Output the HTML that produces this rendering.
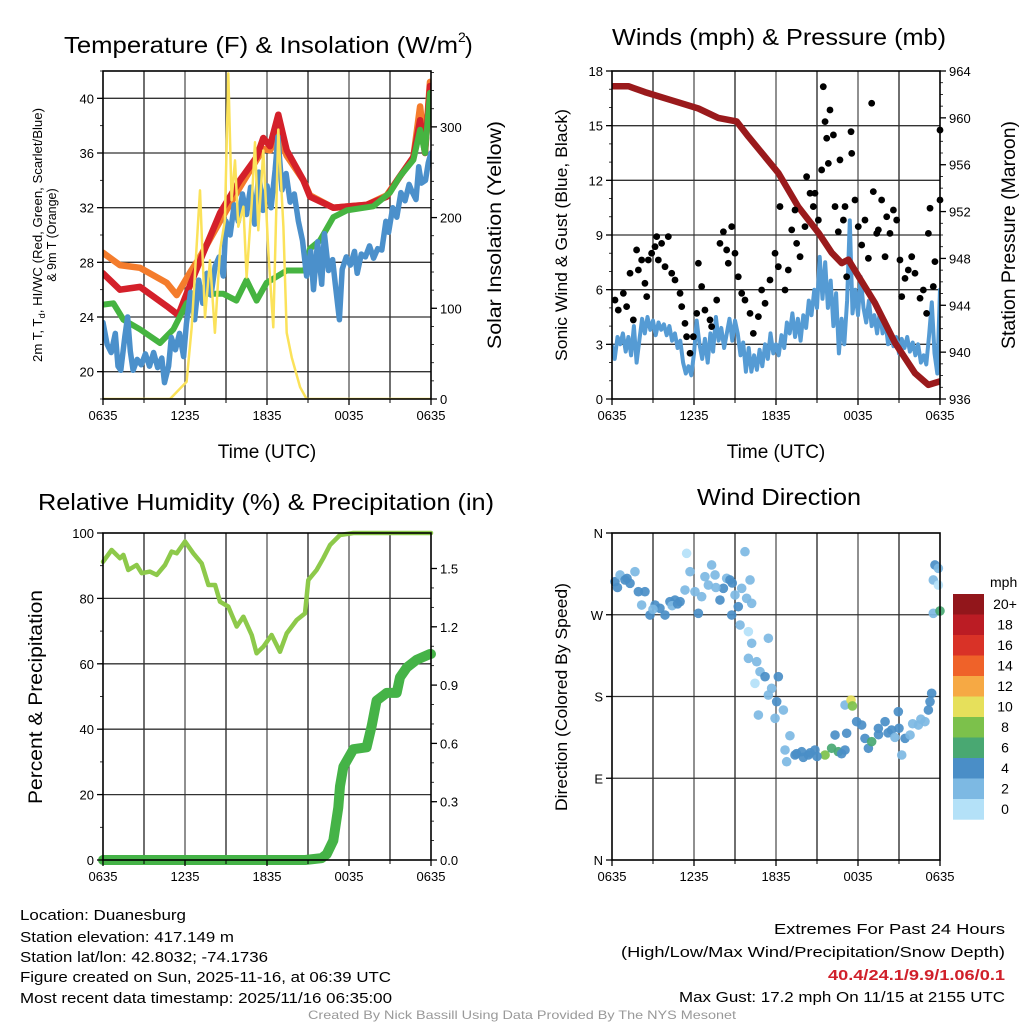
<!DOCTYPE html>
<html><head><meta charset="utf-8"><style>
html,body{margin:0;padding:0;background:#fff;}
svg{display:block;font-family:"Liberation Sans",Arial,sans-serif;}
</style></head><body>
<svg id="fig" width="1024" height="1024" viewBox="0 0 1024 1024" xmlns="http://www.w3.org/2000/svg">
<rect width="1024" height="1024" fill="#fff"/>
<g id="gridLayer"></g>
<g id="dataLayer"></g>
<g id="axisLayer"></g>
<text x="64" y="53" font-size="23" textLength="394" lengthAdjust="spacingAndGlyphs">Temperature (F) &amp; Insolation (W/m</text>
<text x="458" y="42" font-size="14">2</text>
<text x="465" y="53" font-size="23">)</text>
<text x="612" y="45" font-size="23" textLength="334" lengthAdjust="spacingAndGlyphs">Winds (mph) &amp; Pressure (mb)</text>
<text x="38" y="510" font-size="23" textLength="456" lengthAdjust="spacingAndGlyphs">Relative Humidity (%) &amp; Precipitation (in)</text>
<text x="697" y="505" font-size="23" textLength="164" lengthAdjust="spacingAndGlyphs">Wind Direction</text>
<text transform="translate(42,235) rotate(-90)" text-anchor="middle" font-size="12.5" textLength="254" lengthAdjust="spacingAndGlyphs">2m T, T<tspan font-size="9" dy="3">d</tspan><tspan dy="-3">, HI/WC (Red, Green, Scarlet/Blue)</tspan></text>
<text transform="translate(56,235) rotate(-90)" text-anchor="middle" font-size="12.5">&amp; 9m T (Orange)</text>
<text transform="translate(501,235) rotate(-90)" text-anchor="middle" font-size="19" textLength="228" lengthAdjust="spacingAndGlyphs">Solar Insolation (Yellow)</text>
<text x="267" y="458" text-anchor="middle" font-size="19">Time (UTC)</text>
<text transform="translate(567,235) rotate(-90)" text-anchor="middle" font-size="16.5" textLength="252" lengthAdjust="spacingAndGlyphs">Sonic Wind &amp; Gust (Blue, Black)</text>
<text transform="translate(1015,235) rotate(-90)" text-anchor="middle" font-size="19" textLength="228" lengthAdjust="spacingAndGlyphs">Station Pressure (Maroon)</text>
<text x="776" y="458" text-anchor="middle" font-size="19">Time (UTC)</text>
<text transform="translate(42,697) rotate(-90)" text-anchor="middle" font-size="19" textLength="214" lengthAdjust="spacingAndGlyphs">Percent &amp; Precipitation</text>
<text transform="translate(567,697) rotate(-90)" text-anchor="middle" font-size="16.5" textLength="228" lengthAdjust="spacingAndGlyphs">Direction (Colored By Speed)</text>
<g id="cbar"></g>
<text x="990" y="587" font-size="14">mph</text>
<g font-size="14.5">
<text x="20" y="920" textLength="166" lengthAdjust="spacingAndGlyphs">Location: Duanesburg</text>
<text x="20" y="942" textLength="214" lengthAdjust="spacingAndGlyphs">Station elevation: 417.149 m</text>
<text x="20" y="962" textLength="248" lengthAdjust="spacingAndGlyphs">Station lat/lon: 42.8032; -74.1736</text>
<text x="20" y="982" textLength="371" lengthAdjust="spacingAndGlyphs">Figure created on Sun, 2025-11-16, at 06:39 UTC</text>
<text x="20" y="1003" textLength="372" lengthAdjust="spacingAndGlyphs">Most recent data timestamp: 2025/11/16 06:35:00</text>
</g>
<g font-size="14.5" text-anchor="end">
<text x="1005" y="934" textLength="231" lengthAdjust="spacingAndGlyphs">Extremes For Past 24 Hours</text>
<text x="1005" y="957" textLength="384" lengthAdjust="spacingAndGlyphs">(High/Low/Max Wind/Precipitation/Snow Depth)</text>
<text x="1005" y="980" fill="#d0202a" font-weight="bold" textLength="177" lengthAdjust="spacingAndGlyphs">40.4/24.1/9.9/1.06/0.1</text>
<text x="1005" y="1002" textLength="326" lengthAdjust="spacingAndGlyphs">Max Gust: 17.2 mph On 11/15 at 2155 UTC</text>
</g>
<text x="522" y="1019" text-anchor="middle" font-size="12" fill="#999" textLength="428" lengthAdjust="spacingAndGlyphs">Created By Nick Bassill Using Data Provided By The NYS Mesonet</text>
</svg>
<script>
// ---------- DATA ----------
const timeTicks = ["0635","1235","1835","0035","0635"];
const tempHours = [0,1.24,2.71,4.66,5.51,6.12,7.34,8.56,10.02,11.24,11.73,12.22,12.83,13.44,14.66,15.15,16.85,18.07,19.29,20.76,21.73,22.71,23.2,23.56,23.93,24];
const tempValues = [27.2,26.0,26.2,24.8,24.15,25.7,28.7,31.6,34.0,35.7,37.1,36.5,38.8,36.2,34.0,32.8,32.0,32.1,32.2,32.8,34.3,35.7,38.4,36.0,40.9,40.4];
const t9Hours = [0,1.24,2.71,4.66,5.39,6.34,7.1,8.56,10.02,11.24,11.73,12.22,12.83,13.44,14.66,15.15,16.85,18.07,19.29,20.76,21.73,22.71,23.2,23.56,23.93,24];
const t9Values = [28.7,27.8,27.6,26.5,25.6,27.2,28.4,31.0,33.5,35.5,36.3,36.2,37.3,35.8,34.0,32.9,32.0,32.1,32.2,32.9,34.3,35.7,39.4,36.2,41.2,40.6];
const tdHours = [0,0.76,1.49,2.71,4.17,5.15,6.12,7.1,8.8,9.76,10.5,11.24,11.97,13.44,14.78,15.15,15.88,16.85,17.83,19.78,21.0,21.73,22.71,23.2,23.56,23.93,24];
const tdValues = [24.9,25.0,23.8,23.1,22.1,23.1,25.0,25.7,25.7,25.2,26.7,25.2,26.5,27.4,27.4,29.0,29.6,31.3,31.8,32.1,33.1,34.3,35.5,37.7,36.0,40.4,40.2];
const wcHours = [0,0.3,0.6,0.9,1.1,1.3,1.6,1.8,2.0,2.2,2.5,2.8,3.1,3.4,3.7,4.0,4.3,4.5,4.8,5.0,5.3,5.6,5.9,6.1,6.4,6.7,7.0,7.3,7.6,7.9,8.2,8.5,8.8,9.0,9.3,9.6,9.9,10.2,10.5,10.8,11.1,11.4,11.7,12.0,12.3,12.6,12.8,13.1,13.4,13.7,14.0,14.3,14.6,14.9,15.2,15.4,15.7,16.0,16.2,16.5,16.8,17.0,17.3,17.5,17.8,18.1,18.4,18.6,18.9,19.2,19.5,19.8,20.1,20.4,20.7,20.9,21.2,21.5,21.8,22.1,22.4,22.6,22.9,23.1,23.3,23.6,23.8,24];
const wcValues = [23.6,22.0,21.4,22.8,20.4,20.1,22.6,24.0,21.5,20.1,20.9,20.5,21.3,20.4,21.4,20.3,21.0,19.2,20.4,22.5,21.6,22.8,21.1,23.5,25.8,23.8,26.7,25.0,27.2,25.6,27.7,28.4,27.0,31.0,30.0,32.2,31.0,33.0,31.5,33.5,30.8,34.6,31.8,33.6,32.0,34.8,37.2,33.3,34.5,32.4,33.0,31.0,29.6,27.0,28.8,26.0,29.5,26.4,30.1,27.4,28.2,26.4,23.8,27.5,28.4,27.8,28.8,27.2,28.6,28.4,29.2,28.3,29.0,28.9,31.0,30.2,32.0,31.3,33.1,32.5,33.7,33.2,32.6,35.0,33.8,34.0,35.3,36.0];
const solarHours = [0,4.9,6.12,6.49,7.1,7.46,7.83,8.19,8.56,8.92,9.17,9.41,9.66,9.9,10.27,10.51,10.88,11.12,11.36,11.73,12.1,12.46,12.83,13.2,13.44,13.81,14.42,14.9,24];
const solarValues = [0,0,19,79,230,90,153,73,164,197,359,219,263,190,212,134,216,283,186,274,161,79,297,190,73,46,13,0,0];
const windHours = [0,0.2,0.4,0.6,0.8,1.0,1.2,1.4,1.6,1.8,2.0,2.2,2.4,2.6,2.8,3.0,3.2,3.4,3.6,3.8,4.0,4.2,4.4,4.6,4.8,5.0,5.2,5.4,5.6,5.8,6.0,6.2,6.4,6.6,6.8,7.0,7.2,7.4,7.6,7.8,8.0,8.2,8.4,8.6,8.8,9.0,9.2,9.4,9.6,9.8,10.0,10.2,10.4,10.6,10.8,11.0,11.2,11.4,11.6,11.8,12.0,12.2,12.4,12.6,12.8,13.0,13.2,13.4,13.6,13.8,14.0,14.2,14.4,14.6,14.8,15.0,15.2,15.4,15.6,15.8,16.0,16.2,16.4,16.6,16.8,17.0,17.2,17.4,17.6,17.8,18.0,18.2,18.4,18.6,18.8,19.0,19.2,19.4,19.6,19.8,20.0,20.2,20.4,20.6,20.8,21.0,21.2,21.4,21.6,21.8,22.0,22.2,22.4,22.6,22.8,23.0,23.2,23.4,23.6,23.8,24];
const windValues = [2.9,2.2,3.4,3.0,3.6,2.6,3.4,2.4,4.0,2.0,3.2,4.4,3.6,4.5,3.8,4.3,3.5,4.2,3.8,4.1,3.5,4.0,3.2,3.6,2.8,3.2,2.0,1.4,1.8,1.3,2.5,4.3,3.0,2.2,3.3,2.0,3.6,2.6,4.5,3.2,3.9,2.8,3.6,4.4,3.2,4.3,3.6,2.4,3.1,1.5,2.8,1.5,2.4,1.6,2.7,1.8,3.0,2.2,3.6,2.5,3.0,2.4,3.5,2.8,4.2,3.6,4.7,3.4,4.4,3.2,4.6,3.9,5.4,4.6,6.0,5.0,7.8,5.5,7.5,5.0,6.5,4.0,5.8,2.5,4.4,3.0,5.4,9.8,4.7,6.0,4.6,6.7,5.0,4.2,5.4,4.0,4.6,3.6,4.8,3.6,4.3,3.0,3.6,2.9,3.4,2.5,3.3,2.8,3.4,2.6,3.1,2.4,3.0,2.0,2.4,1.9,3.5,5.3,2.5,1.4,6.0];
const pressHours = [0.1,1.2,2.41,4.37,6.32,7.78,9.12,9.98,12.17,13.63,15.1,16.07,16.81,17.29,18.02,19.24,20.71,22.17,23.15,24];
const pressValues = [962.7,962.7,962.2,961.5,960.8,960.0,959.7,958.4,955.3,952.4,950.2,948.5,947.6,947.9,946.5,944.2,940.8,938.2,937.2,937.5];
const gustHours = [0.22,0.46,0.83,1.07,1.32,1.56,1.80,1.93,2.17,2.41,2.54,2.66,2.90,3.15,3.27,3.39,3.63,3.88,4.12,4.37,4.61,4.98,5.10,5.34,5.46,5.71,5.95,6.20,6.32,6.56,6.80,7.17,7.29,7.66,7.90,8.15,8.39,8.51,8.76,9.00,9.24,9.49,9.73,10.10,10.34,10.71,10.95,11.20,11.56,11.93,12.17,12.29,12.66,12.90,13.15,13.39,13.51,13.76,14.12,14.24,14.49,14.73,14.85,15.10,15.34,15.46,15.59,15.71,15.83,15.95,16.20,16.32,16.56,16.68,16.93,17.05,17.17,17.49,17.54,17.78,18.02,18.27,18.51,18.76,19.0,19.12,19.37,19.49,19.73,19.98,20.10,20.34,20.59,20.83,21.07,21.20,21.44,21.68,21.93,22.17,22.54,22.78,23.02,23.15,23.27,23.51,23.63,24.0,24.0];
const gustValues = [5.43,4.88,5.80,5.07,6.90,4.34,8.18,7.08,7.63,6.35,5.62,7.63,8.0,8.36,8.91,7.63,8.54,7.26,8.91,6.90,6.53,5.80,5.07,4.15,3.42,2.51,3.42,4.70,7.45,6.17,4.88,4.34,3.97,5.43,8.54,9.18,8.18,7.45,9.46,8.0,6.71,5.80,5.43,4.70,3.60,4.52,5.98,5.25,6.53,8.0,7.26,10.56,5.98,7.08,9.28,10.37,8.54,7.81,9.46,12.2,11.29,10.56,11.29,9.82,12.57,17.14,15.22,14.31,12.93,15.86,14.49,10.56,9.18,13.12,9.82,10.56,6.71,14.67,13.48,10.92,9.46,8.45,9.82,7.72,16.23,11.38,9.09,9.28,10.92,7.81,10.0,9.09,10.37,9.82,7.63,5.62,6.62,7.08,7.81,6.90,5.53,5.98,4.70,9.09,10.47,6.17,7.54,10.92,14.76];
const rhHours = [0,0.63,1.24,1.49,1.85,2.46,2.83,3.44,3.93,4.54,5.02,5.39,6.0,6.61,7.22,7.71,8.2,8.56,9.17,9.78,10.27,10.88,11.24,11.73,12.34,12.95,13.44,14.17,14.78,15.02,15.63,16.12,16.61,17.34,18.32,24];
const rhValues = [91.2,94.8,92.3,93.3,88.7,90.2,87.7,88.2,87.2,90.2,94.3,93.8,97.4,93.8,90.7,84.1,84.1,79.0,77.5,71.4,74.4,68.8,63.2,65.2,68.8,63.7,69.3,73.4,75.4,85.6,88.7,92.3,96.3,99.4,100,100];
const precipHours = [0,14.8,16.0,16.37,16.85,17.22,17.34,17.59,18.32,19.29,19.66,20.02,20.76,21.49,21.73,22.22,22.95,23.93,24];
const precipValues = [0,0,0.01,0.03,0.10,0.27,0.38,0.48,0.57,0.58,0.69,0.82,0.86,0.86,0.94,0.99,1.03,1.06,1.06];
const dirHours = [0.22,0.59,0.95,1.32,1.68,1.93,2.17,2.41,2.78,3.15,3.51,3.88,4.24,4.61,4.98,5.34,5.46,5.71,6.07,6.32,6.56,6.80,7.05,7.29,7.54,7.90,8.15,8.39,8.63,8.76,9.00,9.24,9.49,9.73,9.85,10.10,10.22,9.37,9.98,10.22,11.44,9.98,10.59,10.83,10.46,11.20,11.68,12.17,12.05,11.44,10.71,11.93,12.54,13.02,12.66,12.78,13.39,13.88,14.37,14.85,15.59,16.07,16.56,17.05,16.32,17.17,17.05,17.49,17.59,17.90,18.27,18.51,18.76,19.0,19.49,19.98,20.46,20.95,21.20,21.44,21.81,22.42,22.90,23.15,23.27,23.39,23.63,23.88,23.51,23.88,23.51,24.0,13.5,14.0,14.5,15.0,16.8,19.5,20.2,20.7,21.0,22.0,22.6,3.0,4.4,4.8,1.1,0.4,7.6,8.8];
const dirValues = [306.4,313.8,308.3,304.6,317.4,295.4,280.7,295.4,269.7,280.7,277.1,269.7,284.4,286.2,284.4,297.2,337.6,317.4,295.4,271.6,289.9,311.9,302.7,324.8,313.8,286.2,299.1,310.1,308.3,269.7,291.7,278.9,299.1,339.4,288.1,308.3,282.6,258.7,251.4,238.6,244.1,222.0,218.3,207.3,194.5,201.8,189.0,201.8,174.3,181.6,159.6,156.0,165.1,136.8,121.1,108.2,115.6,119.2,115.6,121.1,115.6,123.0,119.2,121.1,137.6,139.5,170.6,176.1,169.6,152.3,148.6,133.9,123.0,130.3,144.9,152.3,143.1,163.3,115.6,133.9,137.6,148.6,152.3,165.1,174.3,183.5,324.8,321.1,308.3,302.7,271.6,274.2,117,113,118,114,117,138,140,135,145,150,155,276,280,282,310,300,300,305];
const dirSpeeds = [4,3,4,4,3,4,3,4,4,4,4,4,4,4,4,3,0,2,3,4,3,2,3,2,3,4,4,3,4,4,3,4,3,3,3,2,3,3,1,2,3,2,2,3,0,4,3,4,4,3,2,3,3,2,3,2,4,4,4,4,8,7,6,4,4,4,2,10,8,4,4,4,4,6,4,4,4,4,3,4,3,3,3,4,4,4,4,3,2,1,3,6,4,4,4,4,4,4,4,3,4,3,3,3,3,4,4,4,3,4,4];
const cbarLabels = ["20+","18","16","14","12","10","8","6","4","2","0"];
const cbarColors = ["#92161b","#bb1c24","#d93227","#ef6229","#f6a944","#e6e05b","#7cc14b","#49a872","#4a8ec7","#7db9e3","#b4e1f8"];

// ---------- HELPERS ----------
const NS = "http://www.w3.org/2000/svg";
const gridL = document.getElementById("gridLayer");
const dataL = document.getElementById("dataLayer");
const axisL = document.getElementById("axisLayer");
function mk(tag, parent, attrs){const e=document.createElementNS(NS,tag);for(const k in attrs)e.setAttribute(k,attrs[k]);parent.appendChild(e);return e;}
function scale(d0,d1,p0,p1){return v=>p0+(v-d0)/(d1-d0)*(p1-p0);}
function speedColor(s){if(s>=20)return cbarColors[0];const i=Math.floor(s/2);return cbarColors[10-Math.min(10,i)];}

function panel(name,x0,y0,x1,y1){
  const xs=scale(0,24,x0,x1);
  for(let h=3;h<24;h+=3){
    const l=mk("line",gridL,{x1:xs(h),x2:xs(h),y1:y0,y2:y1,stroke:(h%6===0)?"#555":"#222","stroke-width":1.3});
    
    
  }
  const fr=mk("rect",axisL,{x:x0,y:y0,width:x1-x0,height:y1-y0,fill:"none",stroke:"#000","stroke-width":1.6});
  
  
  timeTicks.forEach((t,i)=>{
    const x=xs(i*6);
    const tk=mk("line",axisL,{x1:x,x2:x,y1:y1,y2:y1+6,stroke:"#000","stroke-width":1.3});
    
    
    const tx=mk("text",axisL,{x:x,y:y1+21,"text-anchor":"middle","font-size":13});
    tx.textContent=t;
    
    
  });
  for(let h=3;h<24;h+=6){
    const tk=mk("line",axisL,{x1:xs(h),x2:xs(h),y1:y1,y2:y1+4,stroke:"#000","stroke-width":1});
    
    
  }
  return xs;
}
function yAxis(name,ys,x0,x1,ticks,labels,side,grid,minorStep,dmin,dmax){
  ticks.forEach((v,i)=>{
    const y=ys(v);
    if(grid && y>ys(dmax)+1 && y<ys(dmin)-1){
      const g=mk("line",gridL,{x1:x0,x2:x1,y1:y,y2:y,stroke:"#333","stroke-width":1.3});
      
      
    }
    const xx= side==="left"?x0:x1;
    const tk=mk("line",axisL,{x1:xx,x2:side==="left"?xx-6:xx+6,y1:y,y2:y,stroke:"#000","stroke-width":1.3});
    
    
    const tx=mk("text",axisL,{x:side==="left"?xx-9:xx+9,y:y+5,"text-anchor":side==="left"?"end":"start","font-size":13});
    tx.textContent=labels[i];
    
    
  });
  if(minorStep){
    for(let v=Math.ceil(dmin/minorStep)*minorStep; v<=dmax; v+=minorStep){
      const y=ys(v);const xx=side==="left"?x0:x1;
      const tk=mk("line",axisL,{x1:xx,x2:side==="left"?xx-3:xx+3,y1:y,y2:y,stroke:"#000","stroke-width":0.8});
      
      
    }
  }
}
function line(name,xs,ys,hx,vy,color,w){
  const d=hx.map((h,i)=>(i?"L":"M")+xs(h).toFixed(1)+","+ys(vy[i]).toFixed(1)).join("");
  const p=mk("path",dataL,{d:d,fill:"none",stroke:color,"stroke-width":w,"stroke-linejoin":"round","stroke-linecap":"round"});
  
  
  return p;
}

// ---------- PANEL 1 ----------
{
  const x0=103,x1=431,y0=71,y1=399;
  const xs=panel("temp",x0,y0,x1,y1);
  const ys=scale(18,42,y1,y0);
  const ysR=scale(0,361.6,y1,y0);
  yAxis("temp-left",ys,x0,x1,[20,24,28,32,36,40],["20","24","28","32","36","40"],"left",true,2,18,42);
  yAxis("insolation-right",ysR,x0,x1,[0,100,200,300],["0","100","200","300"],"right",false,20,0,360);
  const clip=mk("clipPath",dataL,{id:"c1"});mk("rect",clip,{x:x0,y:y0,width:x1-x0,height:y1-y0});
  const g=mk("g",dataL,{"clip-path":"url(#c1)"});
  const add=(n,hx,vy,c,w,sc)=>{const p=line(n,xs,sc,hx,vy,c,w);g.appendChild(p);};
  add("temp-9m-line",t9Hours,t9Values,"#f47c2c",6.5,ys);
  add("temp-2m-line",tempHours,tempValues,"#d4202a",6.5,ys);
  add("dewpoint-line",tdHours,tdValues,"#46b441",6,ys);
  add("windchill-line",wcHours,wcValues,"#4b90cb",5.5,ys);
  add("insolation-line",solarHours,solarValues,"#fbe25a",2.5,ysR);
}
// ---------- PANEL 2 ----------
{
  const x0=612,x1=940,y0=71,y1=399;
  const xs=panel("wind",x0,y0,x1,y1);
  const ys=scale(0,18,y1,y0);
  const ysR=scale(936,964,y1,y0);
  yAxis("wind-left",ys,x0,x1,[0,3,6,9,12,15,18],["0","3","6","9","12","15","18"],"left",true,1,0,18);
  yAxis("pressure-right",ysR,x0,x1,[936,940,944,948,952,956,960,964],["936","940","944","948","952","956","960","964"],"right",false,1,936,964);
  const clip=mk("clipPath",dataL,{id:"c2"});mk("rect",clip,{x:x0,y:y0,width:x1-x0,height:y1-y0});
  const g=mk("g",dataL,{"clip-path":"url(#c2)"});
  const p=line("sonic-wind-line",xs,ys,windHours,windValues,"#559bd4",4);g.appendChild(p);
  gustHours.forEach((h,i)=>{
    const c=mk("circle",dataL,{cx:xs(h),cy:ys(gustValues[i]),r:3.4,fill:"#000"});
    
    
  });
  const pp=line("pressure-line",xs,ysR,pressHours,pressValues,"#9a1a1c",6.5);g.appendChild(pp);
}
// ---------- PANEL 3 ----------
{
  const x0=103,x1=431,y0=533,y1=860;
  const xs=panel("rh",x0,y0,x1,y1);
  const ys=scale(0,100,y1,y0);
  const ysR=scale(0,1.6827,y1,y0);
  yAxis("rh-left",ys,x0,x1,[0,20,40,60,80,100],["0","20","40","60","80","100"],"left",true,10,0,100);
  yAxis("precip-right",ysR,x0,x1,[0,0.3,0.6,0.9,1.2,1.5],["0.0","0.3","0.6","0.9","1.2","1.5"],"right",false,0.1,0,1.6);
  line("relative-humidity-line",xs,ys,rhHours,rhValues,"#8dc94a",4.5);
  line("precipitation-line",xs,ysR,precipHours,precipValues,"#45b347",10);
}
// ---------- PANEL 4 ----------
{
  const x0=612,x1=940,y0=533,y1=860;
  const xs=panel("direction",x0,y0,x1,y1);
  const ys=scale(0,360,y1,y0);
  yAxis("direction-left",ys,x0,x1,[0,90,180,270,360],["N","E","S","W","N"],"left",true,0,0,360);
  dirHours.forEach((h,i)=>{
    const c=mk("circle",dataL,{cx:xs(h),cy:ys(dirValues[i]),r:4.8,fill:speedColor(dirSpeeds[i]),"fill-opacity":0.92});
    
    
  });
  const cb=document.getElementById("cbar");
  cbarLabels.forEach((lab,i)=>{
    const y=594+i*20.5;
    const r=mk("rect",cb,{x:953,y:y,width:31,height:20.7,fill:cbarColors[i]});
    
    
    const t=mk("text",cb,{x:1005,y:y+15,"text-anchor":"middle","font-size":14});
    t.textContent=lab;
    
    
  });
}
</script>
</body></html>
